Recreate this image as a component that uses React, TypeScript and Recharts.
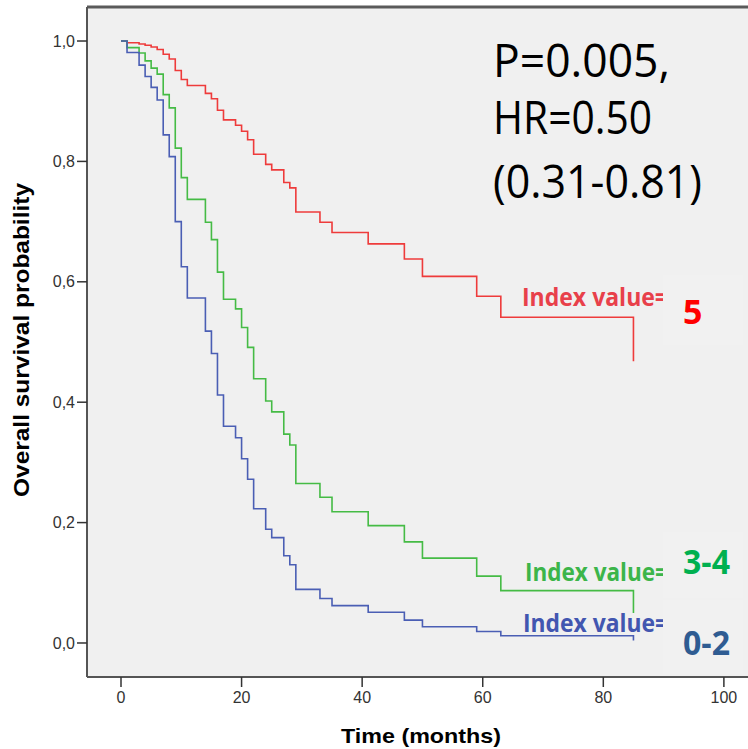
import React from 'react';
import { LineChart, Line, XAxis, YAxis, CartesianGrid, ReferenceLine } from 'recharts';

// Kaplan-Meier step points (months, survival probability)
const redTimes = [0, 1, 3, 4, 5, 6, 7, 8, 9, 10, 11, 14, 15, 16, 17, 19, 20, 21, 22, 24, 25, 27, 28, 29, 33, 35, 41, 47, 50, 59, 63, 85];
const redSurv = [1.0, 0.997, 0.995, 0.993, 0.99, 0.986, 0.978, 0.97, 0.951, 0.936, 0.926, 0.913, 0.904, 0.885, 0.869, 0.86, 0.85, 0.836, 0.812, 0.795, 0.786, 0.765, 0.756, 0.716, 0.699, 0.682, 0.663, 0.638, 0.609, 0.576, 0.541, 0.468];

const greenTimes = [0, 1, 3, 4, 5, 6, 7, 8, 9, 10, 11, 14, 15, 16, 17, 19, 20, 21, 22, 24, 25, 27, 28, 29, 33, 35, 41, 47, 50, 59, 63, 85];
const greenSurv = [1.0, 0.989, 0.98, 0.967, 0.955, 0.945, 0.911, 0.889, 0.822, 0.773, 0.737, 0.699, 0.67, 0.616, 0.571, 0.555, 0.524, 0.491, 0.439, 0.402, 0.384, 0.347, 0.329, 0.265, 0.242, 0.218, 0.195, 0.168, 0.141, 0.111, 0.087, 0.05];

const blueTimes = [0, 1, 3, 4, 5, 6, 7, 8, 9, 10, 11, 14, 15, 16, 17, 19, 20, 21, 22, 24, 25, 27, 28, 29, 33, 35, 41, 47, 50, 59, 63, 85];
const blueSurv = [1.0, 0.981, 0.96, 0.941, 0.923, 0.902, 0.844, 0.808, 0.7, 0.625, 0.573, 0.518, 0.481, 0.412, 0.36, 0.341, 0.306, 0.272, 0.223, 0.189, 0.175, 0.145, 0.13, 0.089, 0.074, 0.062, 0.051, 0.038, 0.027, 0.019, 0.012, 0.004];

const xTicks = [0, 20, 40, 60, 80, 100];
const yTicks = [0, 0.2, 0.4, 0.6, 0.8, 1.0];

const statLines = ['P=0.005,', 'HR=0.50', '(0.31-0.81)'];
const groupLabels = ['5', '3-4', '0-2'];
const indexLabel = 'Index value=';

const toRows = (t: number[], s: number[]) => t.map((v, i) => ({ t: v, s: s[i] }));
const redData = toRows(redTimes, redSurv);
const greenData = toRows(greenTimes, greenSurv);
const blueData = toRows(blueTimes, blueSurv);

const X_MIN = -5.64;
const X_MAX = 104;
const Y_MIN = -0.0565;
const Y_MAX = 1.0565;

const fmtY = (v: number) => v.toFixed(1).replace('.', ',');

export default function App() {
  return (
    <div style={{ position: 'absolute', left: 0, top: 0, width: 748, height: 749, background: '#ffffff' }}>
      <LineChart width={748} height={749} margin={{ top: 7, right: 0, bottom: 0, left: 0 }}>
        <CartesianGrid horizontal={false} vertical={false} fill="#f0f0f0" />
        <XAxis
          dataKey="t"
          type="number"
          domain={[X_MIN, X_MAX]}
          ticks={xTicks}
          allowDataOverflow
          height={72}
          tickSize={10}
          tickMargin={5}
          axisLine={{ stroke: '#555555', strokeWidth: 2 }}
          tickLine={{ stroke: '#333333', strokeWidth: 1.5 }}
          tick={{ fill: '#333333', fontSize: 16, fontFamily: 'Liberation Sans, Arial, sans-serif' }}
        />
        <YAxis
          dataKey="s"
          type="number"
          domain={[Y_MIN, Y_MAX]}
          ticks={yTicks}
          allowDataOverflow
          width={87}
          tickSize={10}
          tickMargin={2}
          tickFormatter={fmtY}
          axisLine={{ stroke: '#555555', strokeWidth: 2 }}
          tickLine={{ stroke: '#333333', strokeWidth: 1.5 }}
          tick={{ fill: '#333333', fontSize: 16, fontFamily: 'Liberation Sans, Arial, sans-serif' }}
        />
        <ReferenceLine y={Y_MAX} stroke="#5a5a5a" strokeWidth={3} ifOverflow="visible" />
        <Line data={redData} dataKey="s" type="stepAfter" stroke="#ee3b3b" strokeWidth={1.6} dot={false} activeDot={false} isAnimationActive={false} />
        <Line data={greenData} dataKey="s" type="stepAfter" stroke="#45bb45" strokeWidth={1.6} dot={false} activeDot={false} isAnimationActive={false} />
        <Line data={blueData} dataKey="s" type="stepAfter" stroke="#4a5eb4" strokeWidth={1.6} dot={false} activeDot={false} isAnimationActive={false} />
      </LineChart>
      <svg width={748} height={749} style={{ position: 'absolute', left: 0, top: 0, pointerEvents: 'none' }}>
        <g fontFamily="Open Sans, sans-serif" fill="#000000" fontSize={46}>
          <text x={493} y={77} textLength={177} lengthAdjust="spacingAndGlyphs">{statLines[0]}</text>
          <text x={493} y={134} textLength={159} lengthAdjust="spacingAndGlyphs">{statLines[1]}</text>
          <text x={493} y={198} textLength={209} lengthAdjust="spacingAndGlyphs">{statLines[2]}</text>
        </g>
        <g fontFamily="Open Sans, sans-serif" fontWeight="bold" fontSize={25}>
          <text x={522} y={306} fill="#e8404a" textLength={146} lengthAdjust="spacingAndGlyphs">{indexLabel}</text>
          <text x={525} y={581} fill="#3cb54a" textLength={143} lengthAdjust="spacingAndGlyphs">{indexLabel}</text>
          <text x={523} y={632} fill="#4256b0" textLength={145} lengthAdjust="spacingAndGlyphs">{indexLabel}</text>
        </g>
        <rect x={663} y={275} width={80} height={70} fill="#f1f1f1" />
        <rect x={663} y={532} width={80} height={66} fill="#f1f1f1" />
        <rect x={663} y={600} width={80} height={74} fill="#f1f1f1" />
        <g fontFamily="Open Sans, sans-serif" fontWeight="bold" fontSize={34}>
          <text x={683} y={324} fill="#ff0000">{groupLabels[0]}</text>
          <text x={683} y={574} fill="#00b050" textLength={47} lengthAdjust="spacingAndGlyphs">{groupLabels[1]}</text>
          <text x={683} y={655} fill="#2f5c92" textLength={47} lengthAdjust="spacingAndGlyphs">{groupLabels[2]}</text>
        </g>
        <text x={421} y={743} textAnchor="middle" fontFamily="Liberation Sans, Arial, sans-serif" fontWeight="bold" fontSize={21} textLength={160} lengthAdjust="spacingAndGlyphs" fill="#000000">Time (months)</text>
        <text x={0} y={0} transform="translate(29 340) rotate(-90)" textAnchor="middle" fontFamily="Liberation Sans, Arial, sans-serif" fontWeight="bold" fontSize={22} textLength={314} lengthAdjust="spacingAndGlyphs" fill="#000000">Overall survival probability</text>
      </svg>
    </div>
  );
}
